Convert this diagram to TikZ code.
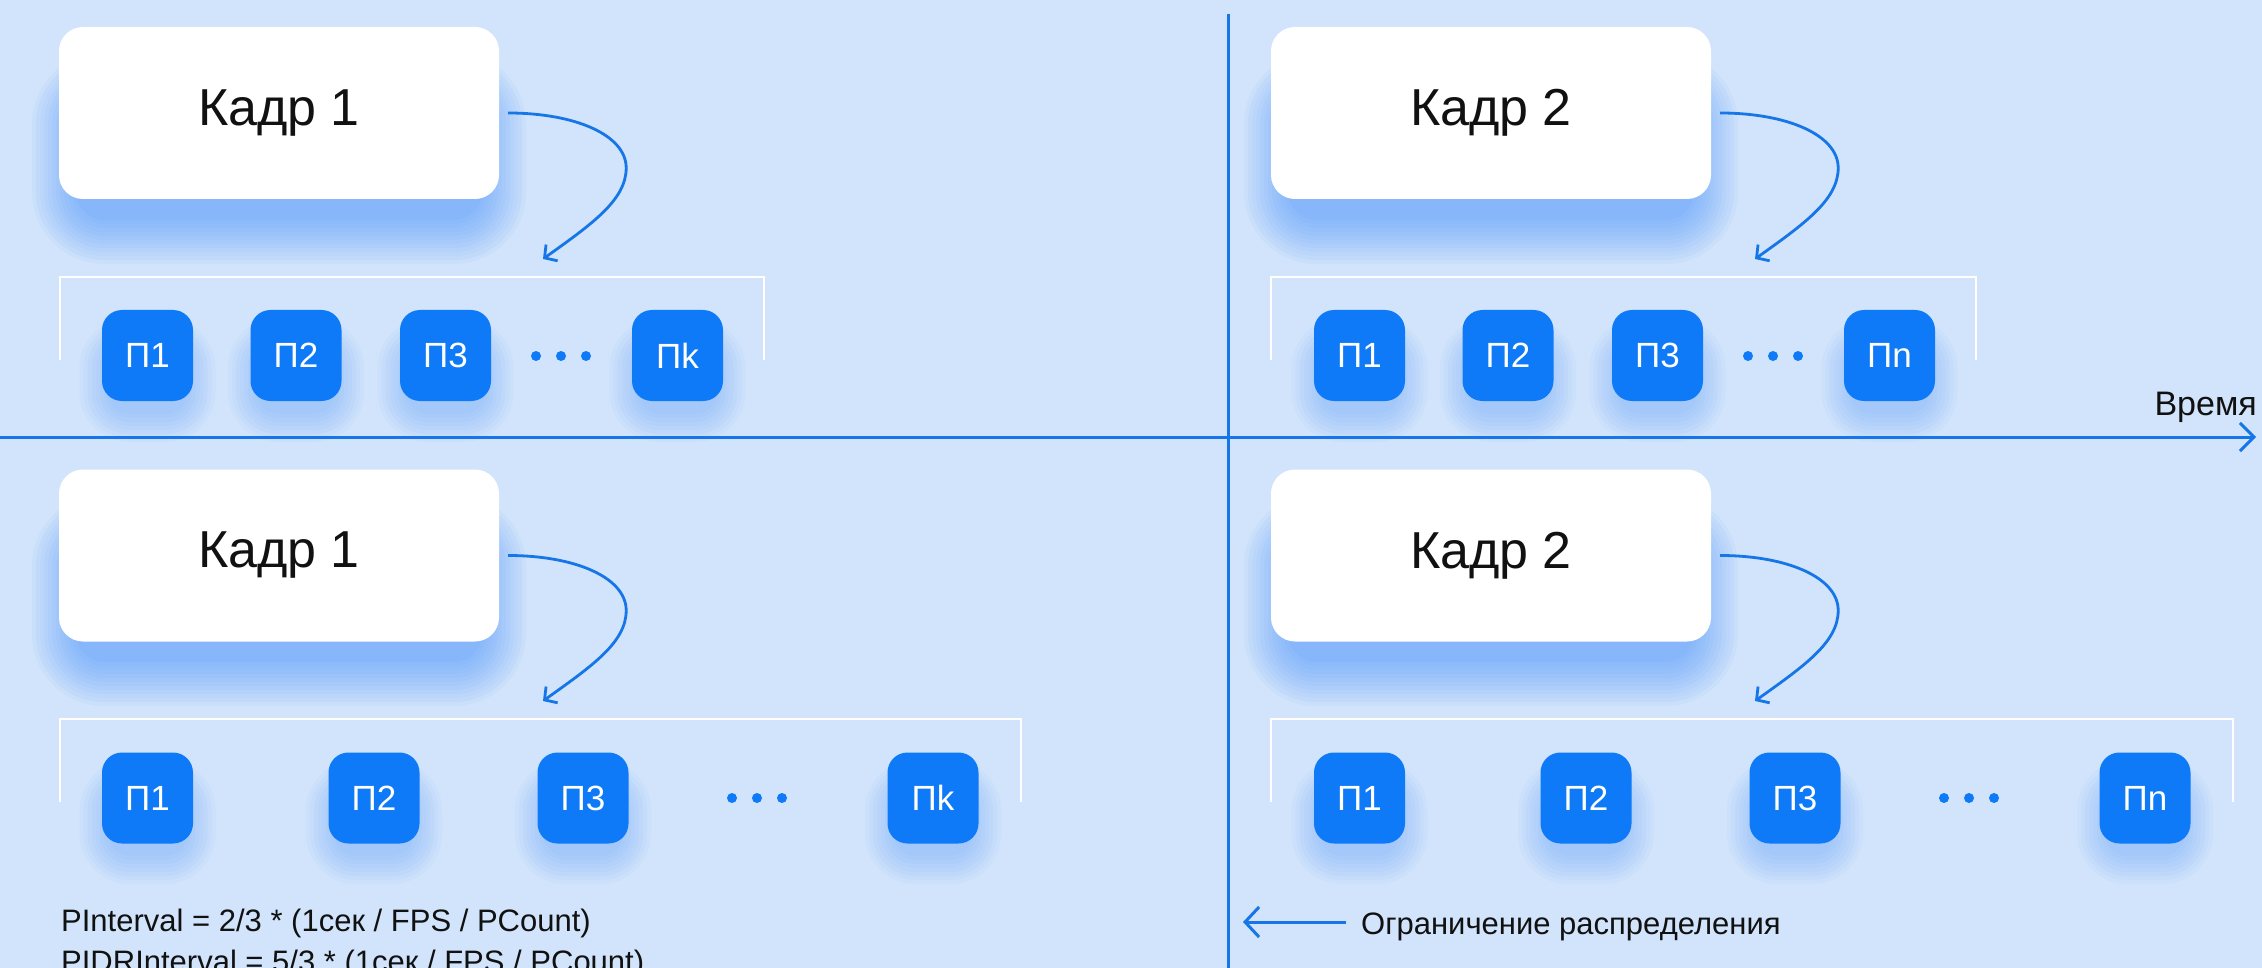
\documentclass[tikz,border=0pt]{standalone}
\usepackage{fontspec}
\setmainfont{Liberation Sans}
\usetikzlibrary{arrows.meta,calc}
\definecolor{bgblue}{RGB}{209,228,251}
\definecolor{pblue}{RGB}{14,122,247}
\definecolor{lineblue}{RGB}{22,118,232}
\definecolor{glow}{RGB}{40,130,250}
\definecolor{ink}{RGB}{17,17,17}
\pgfdeclarelayer{bg}
\pgfdeclarelayer{shadow}
\pgfsetlayers{bg,shadow,main}
% soft glow: x1,y1,x2,y2,radius,steps,opacity
\newcommand{\glowrect}[7]{%
  \foreach \k in {1,...,#6}{%
    \pgfmathsetmacro{\dd}{\k*4}%
    \pgfmathsetmacro{\rr}{#5+\dd}%
    \fill[glow, opacity=#7, rounded corners=\rr pt] ({#1-\dd},{#2-\dd}) rectangle ({#3+\dd},{#4+\dd});
  }}
\tikzset{
  frame/.style={fill=white, rounded corners=24pt, minimum width=440pt, minimum height=172pt,
    inner sep=0pt, text=ink, font=\fontsize{52}{62}\selectfont},
  pbox/.style={fill=pblue, rounded corners=20pt, minimum width=91pt, minimum height=91pt,
    inner sep=0pt, text=white, font=\fontsize{35}{42}\selectfont},
  curvearrow/.style={draw=lineblue, line width=2.8pt, -{Straight Barb[length=9pt,width=20pt]}},
  axisline/.style={draw=lineblue, line width=3pt},
  bracketline/.style={draw=white, line width=2.5pt},
  dotnode/.style={circle, fill=pblue, minimum size=10pt, inner sep=0pt},
  label/.style={text=ink, inner sep=0pt},
}
\begin{document}
\begin{tikzpicture}[x=1pt,y=-1pt]
\useasboundingbox (0,0) rectangle (2262,968);
\begin{pgfonlayer}{bg}
  \fill[bgblue] (0,0) rectangle (2262,968);
\end{pgfonlayer}

% ---------- axes ----------
\coordinate (axL) at (0,437);
\coordinate (axR) at (2256,437);
\coordinate (vT) at (1228,14);
\coordinate (vB) at (1228,975);
\draw[axisline] (vT) -- (vB);
\draw[axisline, -{Straight Barb[length=14pt,width=28pt]}] (axL) -- (axR);
\node[label, anchor=base east, font=\fontsize{34}{40}\selectfont] (time) at (2257,415) {Время};

% ---------- glows ----------
\begin{pgfonlayer}{shadow}
  \foreach \ox/\oy in {0/0,1212/0,0/442,1212/442}{
    \glowrect{80+\ox}{100+\oy}{478+\ox}{216+\oy}{24}{12}{0.045}
  }
  \foreach \cx in {147.5,296,445.5,677.5,1359.5,1508,1657.5,1889.5}{
    \glowrect{\cx-36}{350}{\cx+36}{410}{18}{8}{0.035}
  }
  \foreach \cx in {147.5,374,583,933,1359.5,1586,1795,2145}{
    \glowrect{\cx-36}{792}{\cx+36}{852}{18}{8}{0.035}
  }
\end{pgfonlayer}

% ---------- panel A (top left) ----------
\node[frame] (fA) at (279,113) {Кадр 1};
\draw[bracketline] (60,360) -- (60,277) -- (764,277) -- (764,360);
\node[pbox] (A1) at (147.5,355.5) {П1};
\node[pbox] (A2) at (296,355.5) {П2};
\node[pbox] (A3) at (445.5,355.5) {П3};
\node[pbox] (A4) at (677.5,355.5) {Пk};
\foreach \i/\x in {1/536,2/561,3/586}{\node[dotnode] (Ad\i) at (\x,356) {};}
\coordinate (tA) at (543,259);
\draw[curvearrow] ([xshift=9pt]fA.east) .. controls +(67,0) and +(0,-33) .. ++(118,55)
  .. controls +(0,32) and +(49,-35) .. (tA);

% ---------- panel B (top right) ----------
\node[frame] (fB) at (1491,113) {Кадр 2};
\draw[bracketline] (1271,360) -- (1271,277) -- (1976,277) -- (1976,360);
\node[pbox] (B1) at (1359.5,355.5) {П1};
\node[pbox] (B2) at (1508,355.5) {П2};
\node[pbox] (B3) at (1657.5,355.5) {П3};
\node[pbox] (B4) at (1889.5,355.5) {Пn};
\foreach \i/\x in {1/1748,2/1773,3/1798}{\node[dotnode] (Bd\i) at (\x,356) {};}
\coordinate (tB) at (1755,259);
\draw[curvearrow] ([xshift=9pt]fB.east) .. controls +(67,0) and +(0,-33) .. ++(118,55)
  .. controls +(0,32) and +(49,-35) .. (tB);

% ---------- panel C (bottom left) ----------
\node[frame] (fC) at (279,555.5) {Кадр 1};
\draw[bracketline] (60,802) -- (60,719) -- (1021,719) -- (1021,802);
\node[pbox] (C1) at (147.5,798) {П1};
\node[pbox] (C2) at (374,798) {П2};
\node[pbox] (C3) at (583,798) {П3};
\node[pbox] (C4) at (933,798) {Пk};
\foreach \i/\x in {1/732,2/757,3/782}{\node[dotnode] (Cd\i) at (\x,798) {};}
\coordinate (tC) at (543,701);
\draw[curvearrow] ([xshift=9pt]fC.east) .. controls +(67,0) and +(0,-33) .. ++(118,55)
  .. controls +(0,32) and +(49,-35) .. (tC);

% ---------- panel D (bottom right) ----------
\node[frame] (fD) at (1491,555.5) {Кадр 2};
\draw[bracketline] (1271,802) -- (1271,719) -- (2233,719) -- (2233,802);
\node[pbox] (D1) at (1359.5,798) {П1};
\node[pbox] (D2) at (1586,798) {П2};
\node[pbox] (D3) at (1795,798) {П3};
\node[pbox] (D4) at (2145,798) {Пn};
\foreach \i/\x in {1/1944,2/1969,3/1994}{\node[dotnode] (Dd\i) at (\x,798) {};}
\coordinate (tD) at (1755,701);
\draw[curvearrow] ([xshift=9pt]fD.east) .. controls +(67,0) and +(0,-33) .. ++(118,55)
  .. controls +(0,32) and +(49,-35) .. (tD);

% ---------- notes ----------
\node[label, anchor=base west, font=\fontsize{31}{37}\selectfont] (f1) at (61,931)
  {PInterval = 2/3 * (1сек / FPS / PCount)};
\node[label, anchor=base west, font=\fontsize{31}{37}\selectfont] (f2) at (61,972)
  {PIDRInterval = 5/3 * (1сек / FPS / PCount)};
\node[label, anchor=base west, font=\fontsize{31}{37}\selectfont] (lim) at (1361,934)
  {Ограничение распределения};
\coordinate (limS) at (1346,922);
\coordinate (limE) at (1243,922);
\draw[axisline, -{Straight Barb[length=14pt,width=30pt]}] (limS) -- (limE);
\end{tikzpicture}
\end{document}
